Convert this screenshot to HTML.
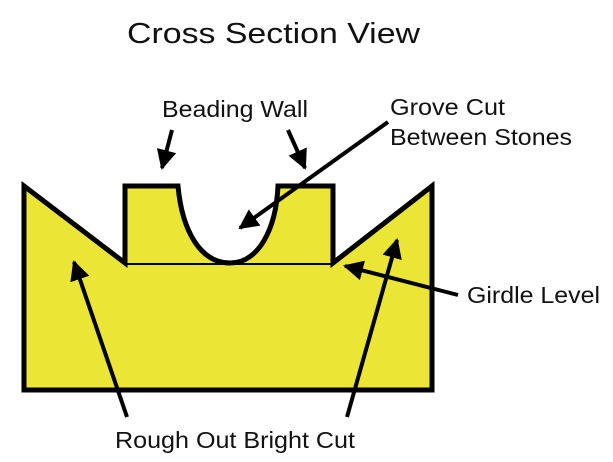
<!DOCTYPE html>
<html><head><style>
body{margin:0;background:#fff;width:613px;height:462px;overflow:hidden}
svg{display:block}
text{font-family:"Liberation Sans",Arial,sans-serif;fill:#111}
</style></head><body>
<svg width="613" height="462" viewBox="0 0 613 462">
<defs><marker id="a" viewBox="0 0 10 10" refX="9" refY="5" markerWidth="5" markerHeight="5" orient="auto"><path d="M0,0L10,5L0,10z" fill="#000"/></marker></defs>
<path d="M24,186 L125,263 L125,186 L178,186 C182,230 200,263 230,263 C258,263 276,230 278,186 L333,186 L333,263 L432,186 L432,390 L24,390 Z" fill="#ebe636" stroke="#000" stroke-width="5" stroke-linejoin="miter"/>
<line x1="125" y1="264" x2="333" y2="264" stroke="#000" stroke-width="2"/>
<text x="127" y="43" font-size="29" textLength="293" lengthAdjust="spacingAndGlyphs">Cross Section View</text>
<text x="162" y="117" font-size="23" textLength="146" lengthAdjust="spacingAndGlyphs">Beading Wall</text>
<text x="390" y="115" font-size="23" textLength="115" lengthAdjust="spacingAndGlyphs">Grove Cut</text>
<text x="390" y="145" font-size="23" textLength="182" lengthAdjust="spacingAndGlyphs">Between Stones</text>
<text x="467" y="303" font-size="23" textLength="133" lengthAdjust="spacingAndGlyphs">Girdle Level</text>
<text x="115" y="448" font-size="23" textLength="240" lengthAdjust="spacingAndGlyphs">Rough Out Bright Cut</text>
<g stroke="#000" stroke-width="4" marker-end="url(#a)" fill="none">
<line x1="172" y1="130" x2="162" y2="168"/>
<line x1="288" y1="130" x2="305" y2="168"/>
<line x1="388" y1="122" x2="240" y2="228"/>
<line x1="458" y1="295" x2="345" y2="266"/>
<line x1="127" y1="417" x2="74" y2="262"/>
<line x1="347" y1="417" x2="397" y2="240"/>
</g>
</svg>
</body></html>
